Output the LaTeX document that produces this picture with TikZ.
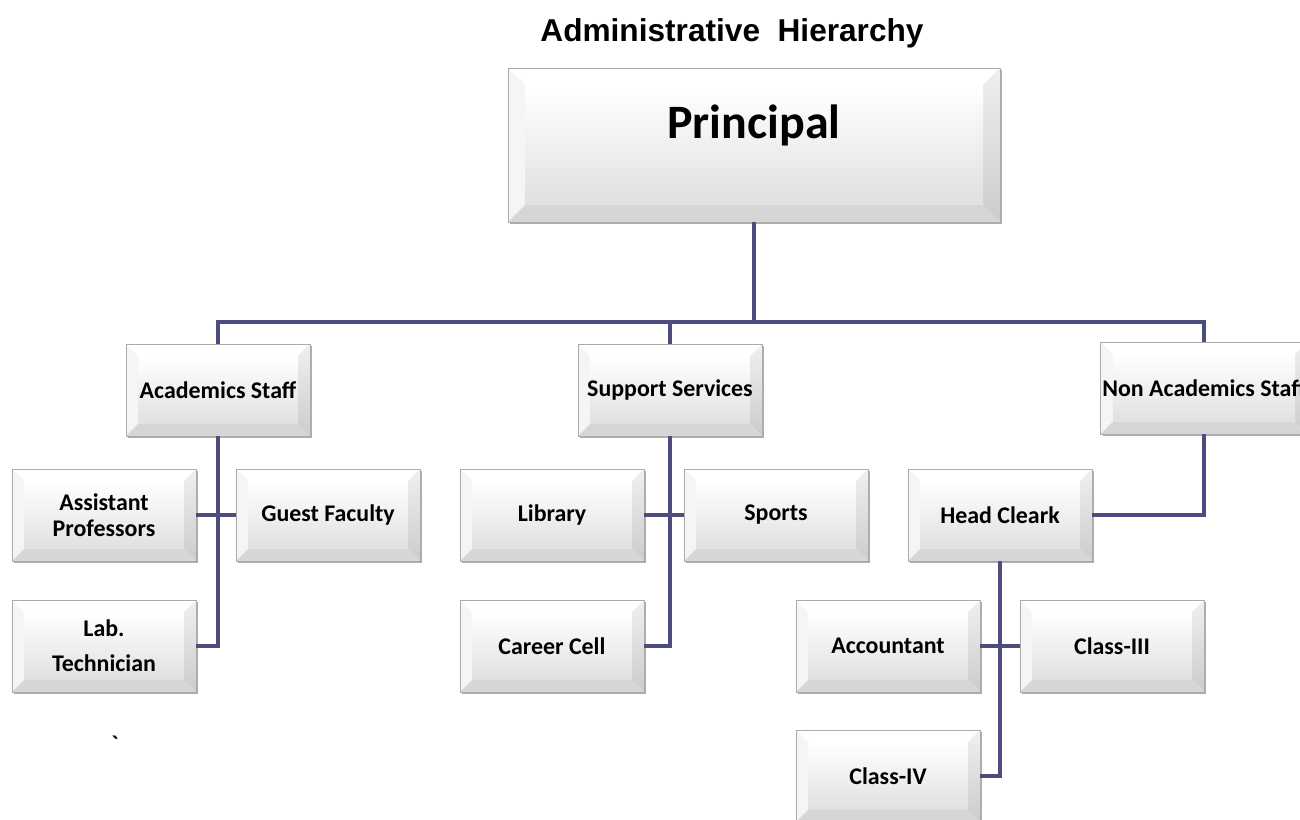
\documentclass[tikz,border=0pt]{standalone}
\usepackage{fontspec}
\setmainfont{Carlito}
\newfontfamily\titlefont{Liberation Sans}
\usetikzlibrary{positioning,shadows}
\definecolor{linkblue}{RGB}{76,76,126}

\begin{document}
\begin{tikzpicture}[
  x=0.02cm, y=-0.02cm,
  font=\fontsize{13.6}{15}\selectfont\bfseries,
  bevel/.store in=\bevsize, bevel=6pt,
  box/.style={minimum width=3.68cm, minimum height=1.84cm, inner sep=1pt, align=center,
    draw=gray!65, fill=white, bevel=7pt,
    drop shadow={shadow xshift=1.3pt, shadow yshift=-1.3pt, opacity=0.45, fill=black!70},
    path picture={
      \path (path picture bounding box.north west) coordinate (bnw)
            (path picture bounding box.north east) coordinate (bne)
            (path picture bounding box.south east) coordinate (bse)
            (path picture bounding box.south west) coordinate (bsw);
      \path ([xshift=\bevsize, yshift=-\bevsize]bnw) coordinate (inw)
            ([xshift=-\bevsize, yshift=-\bevsize]bne) coordinate (ine)
            ([xshift=-\bevsize, yshift=\bevsize]bse) coordinate (ise)
            ([xshift=\bevsize, yshift=\bevsize]bsw) coordinate (isw);
      \fill[white] (bnw) -- (bne) -- (ine) -- (inw) -- cycle;
      \fill[gray!8] (bnw) -- (inw) -- (isw) -- (bsw) -- cycle;
      \shade[top color=gray!12, bottom color=gray!40] (bne) -- (bse) -- (ise) -- (ine) -- cycle;
      \fill[gray!32] (bsw) -- (isw) -- (ise) -- (bse) -- cycle;
      \shade[top color=white, bottom color=gray!24] (inw) rectangle (ise);
    }},
  link/.style={draw=linkblue, line width=2.4pt}
]
  \useasboundingbox (0,0) rectangle (1300,820);

  \node[font=\titlefont\bfseries\fontsize{18}{20}\selectfont] (title) at (732,33) {Administrative\ \ Hierarchy};

  % top level
  \node[box, minimum width=9.84cm, minimum height=3.08cm, bevel=10pt] (principal) at (754,145) {};
  \node[font=\fontsize{27.3}{30}\selectfont\bfseries] (ptext) at ([yshift=11pt]principal.center) {Principal};

  % second level
  \node[box] (acad) at (218,390) {Academics Staff};
  \node[box] (support) at (670,390) {Support Services};
  \node[box, minimum width=4.08cm] (nonacad) at (1204,388) {Non Academics Staff};

  % academics
  \node[box] (asst) at (104,515) {Assistant\\Professors};
  \node[box] (guest) at (328,515) {Guest Faculty};
  \node[box] (lab) at (104,646) {Lab.\\[5pt]Technician};

  % support services
  \node[box] (library) at (552,515) {Library};
  \node[box] (sports) at (776,515) {Sports};
  \node[box] (career) at (552,646) {Career Cell};

  % non academics
  \node[box] (clerk) at (1000,515) {Head Cleark};
  \node[box] (acct) at (888,646) {Accountant};
  \node[box] (class3) at (1112,646) {Class-III};
  \node[box] (class4) at (888,776) {Class-IV};

  \node (tick) at (115,744) {\textasciigrave};

  % connectors
  \coordinate (bus) at (754,322);
  \draw[link] (principal.south) -- (bus);
  \draw[link] (acad.north) -- (acad.north |- bus) -- (nonacad.north |- bus) -- (nonacad.north);
  \draw[link] (support.north) -- (support.north |- bus);

  \draw[link] (acad.south) |- (lab.east);
  \draw[link] (asst.east) -- (guest.west);

  \draw[link] (support.south) |- (career.east);
  \draw[link] (library.east) -- (sports.west);

  \draw[link] (nonacad.south) |- (clerk.east);
  \draw[link] (clerk.south) |- (class4.east);
  \draw[link] (acct.east) -- (class3.west);
\end{tikzpicture}
\end{document}
